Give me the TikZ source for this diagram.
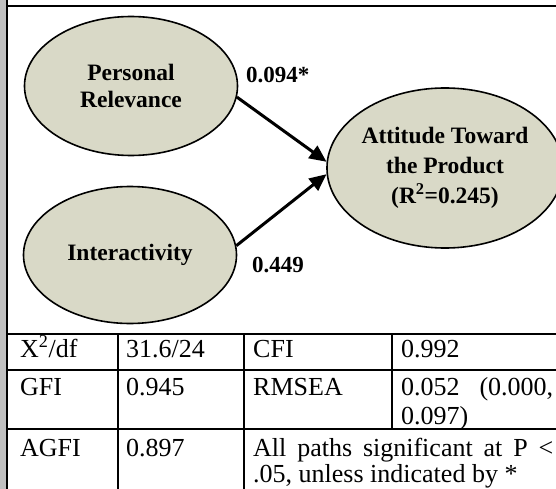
\documentclass[tikz,border=0pt]{standalone}
\usepackage{fontspec}
\setmainfont{Liberation Serif}
\usepackage{tikz}
\usetikzlibrary{shapes.geometric}
\usetikzlibrary{arrows.meta}
\definecolor{latentfill}{RGB}{217,217,199}
\definecolor{sidebar}{RGB}{192,192,192}
\tikzset{latent/.style={ellipse, draw, line width=1.6pt, fill=latentfill, align=center,
           font=\bfseries\fontsize{23.5}{27}\selectfont, inner sep=0pt},
         effect/.style={line width=3pt, -{Triangle[length=17pt,width=15pt]}},
         coef/.style={anchor=base west, font=\bfseries\fontsize{23}{26}\selectfont, inner sep=0pt},
         cell/.style={anchor=base west, font=\fontsize{26}{30}\selectfont, inner sep=0pt},
         rule/.style={line width=2.4pt}}

\begin{document}
\begin{tikzpicture}[x=1pt,y=-1pt]
  \useasboundingbox (0,0) rectangle (556,489);
  % frame
  \fill[sidebar] (0,0) rectangle (6,489);
  \draw[line width=2pt] (7,0) -- (7,489);
  \draw[line width=2pt] (7,6) -- (556,6);

  % path model
  \node[latent, minimum width=213pt, minimum height=139pt] (PR) at (131,86) {Personal\\Relevance};
  \node[latent, minimum width=213pt, minimum height=137pt] (IA) at (130,255) {Interactivity};
  \node[latent, minimum width=216pt, minimum height=160pt, font=\bfseries\fontsize{23.5}{30}\selectfont]
    (AT) at (445,168) {Attitude Toward\\the Product\\(R\textsuperscript{2}=0.245)};
  \draw[effect] (PR.-6) -- (AT.177);
  \draw[effect] (IA.5) -- (AT.183);
  \node[coef] (b1) at (246,83) {0.094*};
  \node[coef] (b2) at (252,272) {0.449};

  % fit statistics
  \draw[rule] (7,334) -- (556,334);
  \draw[rule] (7,370) -- (556,370);
  \draw[rule] (7,429) -- (556,429);
  \draw[line width=2pt] (118,334) -- (118,489);
  \draw[line width=2pt] (244,334) -- (244,489);
  \draw[line width=2pt] (392,334) -- (392,429);
  \node[cell] (chi) at (20,357) {X\textsuperscript{2}/df};
  \node[cell] (chiv) at (126,357) {31.6/24};
  \node[cell] (cfi) at (253,357) {CFI};
  \node[cell] (cfiv) at (401,357) {0.992};
  \node[cell] (gfi) at (20,395) {GFI};
  \node[cell] (gfiv) at (126,395) {0.945};
  \node[cell] (rmsea) at (253,395) {RMSEA};
  \node[cell] (rmseav) at (401,395) {\hbox to 152pt{0.052\hfill(0.000,}};
  \node[cell] (rmseaw) at (401,424) {0.097)};
  \node[cell] (agfi) at (20,456) {AGFI};
  \node[cell] (agfiv) at (126,456) {0.897};
  \node[cell] (note) at (253,456) {\hbox to 300pt{All\hfill paths\hfill significant\hfill at\hfill P\hfill <}};
  \node[cell] (notew) at (253,482) {.05, unless indicated by *};
\end{tikzpicture}
\end{document}
